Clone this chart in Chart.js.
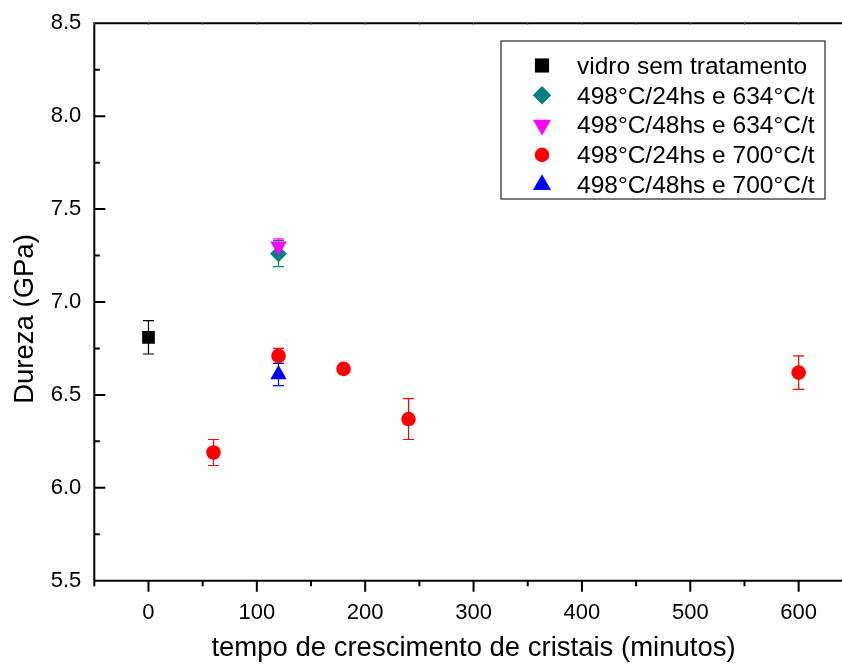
<!DOCTYPE html>
<html>
<head>
<meta charset="utf-8">
<script src="https://cdn.jsdelivr.net/npm/chart.js@4.4.1/dist/chart.umd.min.js"></script>
<style>
  html, body { margin: 0; padding: 0; background: #fff; overflow: hidden; }
  canvas { display: block; }
</style>
</head>
<body>
<canvas id="c" width="842" height="666"></canvas>
<script>
// ---- data: hardness (GPa) versus crystal growth time (min) ----
const seriesNames = [
  'vidro sem tratamento',
  '498°C/24hs e 634°C/t',
  '498°C/48hs e 634°C/t',
  '498°C/24hs e 700°C/t',
  '498°C/48hs e 700°C/t'
];

const vidroX = [0];
const vidroY = [6.81];
const vidroErr = [0.09];

const t24h634X = [120];
const t24h634Y = [7.26];
const t24h634Err = [0.07];

const t48h634X = [120];
const t48h634Y = [7.30];
const t48h634Err = [0.04];

const t24h700X = [60, 120, 180, 240, 600];
const t24h700Y = [6.19, 6.71, 6.64, 6.37, 6.62];
const t24h700Err = [0.07, 0.04, 0.02, 0.11, 0.09];

const t48h700X = [120];
const t48h700Y = [6.61];
const t48h700Err = [0.06];

const xTicks = [0, 100, 200, 300, 400, 500, 600];
const xMinorTicks = [-50, 50, 150, 250, 350, 450, 550];
const yTicks = [5.5, 6.0, 6.5, 7.0, 7.5, 8.0, 8.5];
const yMinorTicks = [5.75, 6.25, 6.75, 7.25, 7.75, 8.25];

const xTitle = 'tempo de crescimento de cristais (minutos)';
const yTitle = 'Dureza (GPa)';

// ---- styling ----
const FONT = "'Liberation Sans', Arial, Helvetica, sans-serif";
const colors = ['#000000', '#008080', '#FF00FF', '#FF0000', '#0000FF'];
const markers = ['rect', 'rectRot', 'triangle', 'circle', 'triangle'];
const markerRot = [0, 0, 180, 0, 0];
const markerRadius = [9, 8.5, 9.5, 7.3, 9.5];
const legendRadius = [10, 9.2, 10.5, 7.3, 10.5];

const seriesX = [vidroX, t24h634X, t48h634X, t24h700X, t48h700X];
const seriesY = [vidroY, t24h634Y, t48h634Y, t24h700Y, t48h700Y];
const seriesErr = [vidroErr, t24h634Err, t48h634Err, t24h700Err, t48h700Err];

const datasets = seriesNames.map((name, i) => ({
  label: name,
  data: seriesX[i].map((x, k) => ({ x: x, y: seriesY[i][k] })),
  errors: seriesErr[i],
  pointStyle: markers[i],
  rotation: markerRot[i],
  pointRadius: markerRadius[i],
  pointHoverRadius: markerRadius[i],
  backgroundColor: colors[i],
  borderColor: colors[i],
  borderWidth: 0,
  showLine: false,
  order: seriesNames.length - 1 - i
}));

// error bars, drawn beneath the markers
const errorBars = {
  id: 'errorBars',
  beforeDatasetsDraw(chart) {
    const ctx = chart.ctx;
    const xs = chart.scales.x, ys = chart.scales.y;
    ctx.save();
    ctx.lineWidth = 1.2;
    chart.data.datasets.forEach((ds) => {
      ctx.strokeStyle = ds.borderColor;
      ds.data.forEach((p, k) => {
        const e = ds.errors[k];
        const px = xs.getPixelForValue(p.x);
        const yTop = ys.getPixelForValue(p.y + e);
        const yBot = ys.getPixelForValue(p.y - e);
        const cap = 5.5;
        ctx.beginPath();
        ctx.moveTo(px, yTop); ctx.lineTo(px, yBot);
        ctx.moveTo(px - cap, yTop); ctx.lineTo(px + cap, yTop);
        ctx.moveTo(px - cap, yBot); ctx.lineTo(px + cap, yBot);
        ctx.stroke();
      });
    });
    ctx.restore();
  }
};

// axis frame, tick marks, axis titles and the boxed legend
const frame = {
  id: 'frame',
  afterDraw(chart) {
    const ctx = chart.ctx;
    const a = chart.chartArea;
    const xs = chart.scales.x, ys = chart.scales.y;
    ctx.save();
    ctx.strokeStyle = '#000';
    ctx.lineWidth = 2;
    ctx.beginPath();
    ctx.moveTo(a.left, a.top); ctx.lineTo(a.left, a.bottom);
    ctx.moveTo(a.left - 1, a.bottom); ctx.lineTo(a.right, a.bottom);
    ctx.moveTo(a.left - 1, a.top); ctx.lineTo(a.right, a.top);
    // y ticks point into the plot
    yTicks.forEach(v => { const y = ys.getPixelForValue(v); ctx.moveTo(a.left, y); ctx.lineTo(a.left + 11, y); });
    yMinorTicks.forEach(v => { const y = ys.getPixelForValue(v); ctx.moveTo(a.left, y); ctx.lineTo(a.left + 5.5, y); });
    // x ticks point outward
    xTicks.forEach(v => { const x = xs.getPixelForValue(v); ctx.moveTo(x, a.bottom); ctx.lineTo(x, a.bottom + 11); });
    xMinorTicks.forEach(v => { const x = xs.getPixelForValue(v); ctx.moveTo(x, a.bottom); ctx.lineTo(x, a.bottom + 5.5); });
    ctx.stroke();
    // faint ticks along the top edge
    ctx.lineWidth = 1;
    ctx.strokeStyle = '#555';
    ctx.beginPath();
    xTicks.concat(xMinorTicks).forEach(v => { const x = xs.getPixelForValue(v); ctx.moveTo(x, a.top - 1.5); ctx.lineTo(x, a.top + 1.5); });
    ctx.stroke();

    // axis titles
    ctx.fillStyle = '#000';
    ctx.font = '27.5px ' + FONT;
    ctx.textAlign = 'center';
    ctx.textBaseline = 'alphabetic';
    ctx.fillText(xTitle, 473.5, 656);
    ctx.save();
    ctx.translate(33.3, 319);
    ctx.rotate(-Math.PI / 2);
    ctx.fillText(yTitle, 0, 0);
    ctx.restore();

    // legend box
    const lx = 501, ly = 41, lw = 324, lh = 158;
    ctx.fillStyle = '#fff';
    ctx.fillRect(lx, ly, lw, lh);
    ctx.strokeStyle = '#222';
    ctx.lineWidth = 1.2;
    ctx.strokeRect(lx, ly, lw, lh);
    ctx.font = '24.5px ' + FONT;
    ctx.textAlign = 'left';
    seriesNames.forEach((name, i) => {
      const rowY = 65.5 + i * 29.8;
      ctx.fillStyle = colors[i];
      ctx.strokeStyle = colors[i];
      Chart.helpers.drawPoint(ctx, {
        pointStyle: markers[i], rotation: markerRot[i],
        radius: legendRadius[i], borderWidth: 0
      }, 542, rowY);
      ctx.fillStyle = '#000';
      ctx.fillText(name, 577, rowY + 8.3);
    });
    ctx.restore();
  }
};

new Chart(document.getElementById('c'), {
  type: 'scatter',
  data: { datasets: datasets },
  options: {
    responsive: false,
    animation: false,
    events: [],
    layout: { autoPadding: false, padding: { top: 23.3, left: 0, right: 0, bottom: 0 } },
    plugins: { legend: { display: false }, tooltip: { enabled: false } },
    scales: {
      x: {
        type: 'linear',
        min: -50,
        max: 640,
        afterBuildTicks: (s) => { s.ticks = xTicks.map(v => ({ value: v })); },
        afterFit: (s) => { s.height = 85.3; s.paddingLeft = 0; s.paddingRight = 0; },
        grid: { display: false, drawTicks: false },
        border: { display: false },
        ticks: {
          autoSkip: false, maxRotation: 0, padding: 19, color: '#000',
          font: { family: FONT, size: 22 },
          callback: (v) => String(v)
        }
      },
      y: {
        type: 'linear',
        min: 5.5,
        max: 8.5,
        afterBuildTicks: (s) => { s.ticks = yTicks.map(v => ({ value: v })); },
        afterFit: (s) => { s.width = 94.3; s.paddingTop = 0; s.paddingBottom = 0; },
        grid: { display: false, drawTicks: false },
        border: { display: false },
        ticks: {
          autoSkip: false, padding: 13, color: '#000',
          font: { family: FONT, size: 22 },
          callback: (v) => Number(v).toFixed(1)
        }
      }
    }
  },
  plugins: [errorBars, frame]
});
</script>
</body>
</html>
